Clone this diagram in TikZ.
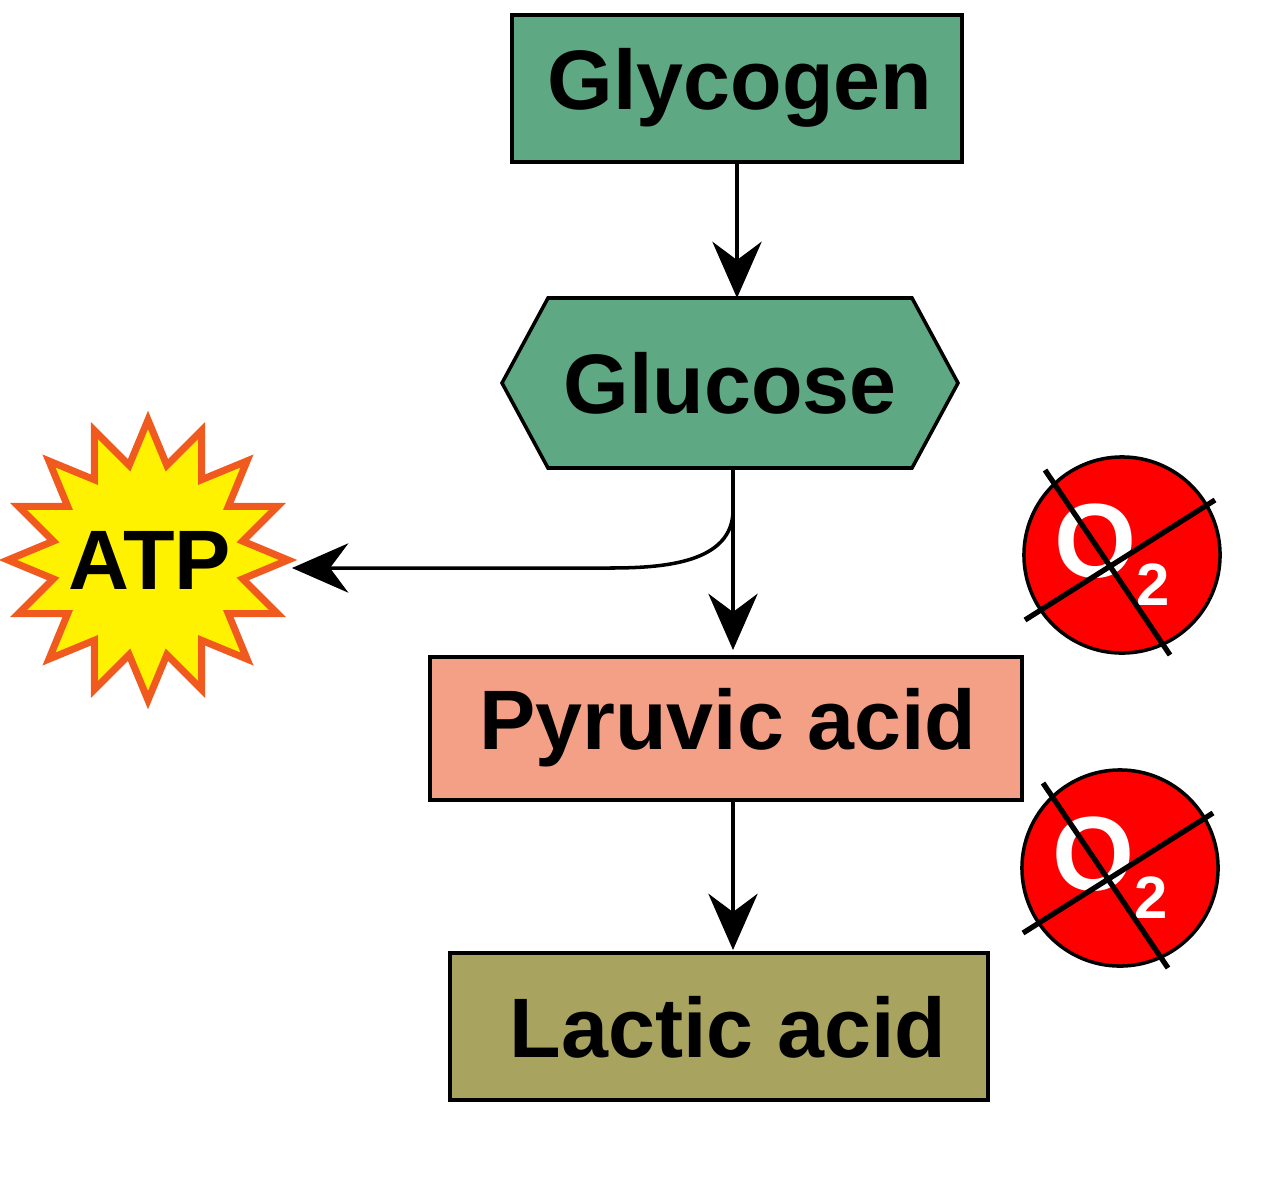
\documentclass[tikz,border=0pt]{standalone}
\usepackage{fontspec}
\setmainfont{Liberation Sans}
\usetikzlibrary{shapes.misc,shapes.geometric,arrows.meta}
\definecolor{gr}{RGB}{95,168,132}
\definecolor{sal}{RGB}{243,160,135}
\definecolor{oli}{RGB}{168,163,94}
\definecolor{orr}{RGB}{240,90,30}
\tikzset{
 lbl/.style={font=\bfseries\fontsize{24}{27}\selectfont},
 arr/.style={-{Stealth[length=16pt,width=14pt]},line width=1pt},
}
\begin{document}
\begin{tikzpicture}[x=0.01cm,y=-0.01cm]
\useasboundingbox[fill=white] (0,0) rectangle (1279,1200);
\draw[fill=gr,line width=1pt] (512,15) rectangle (962,162);
\node[lbl] (glyc) at (740,88) {Glycogen};
\coordinate (glycb) at (737,162);
\draw[fill=gr,line width=1pt] (502,383) -- (548,298) -- (912,298) -- (958,383) -- (912,468) -- (548,468) -- cycle;
\node[lbl] (gluc) at (730,383) {Glucose};
\coordinate (gluct) at (737,298);
\coordinate (glucb) at (733,468);
\draw[fill=sal,line width=1pt] (430,657) rectangle (1022,800);
\node[lbl] (pyr) at (728,728) {Pyruvic acid};
\coordinate (pyrt) at (733,650);
\coordinate (pyrb) at (733,800);
\draw[fill=oli,line width=1pt] (450,953) rectangle (988,1100);
\node[lbl] (lac) at (728,1027) {Lactic acid};
\coordinate (lact) at (733,950);
\node[star,star points=16,star point ratio=1.45,fill=yellow,draw=orr,line width=2pt,minimum width=2.8cm,minimum height=2.6cm,inner sep=0pt] (atpstar) at (148,560) {};
\node[lbl] (atp) at (150,560) {ATP};
\coordinate (atpr) at (292,568);
\draw[arr] (glycb) -- (gluct);
\draw[arr] (glucb) -- (pyrt);
\draw[arr] (pyrb) -- (lact);
\coordinate (br) at (733,510);
\draw[arr] (br) to[out=-90,in=0] (610,568) -- (atpr);
\foreach \cx/\cy/\n in {1122/555/oa,1120/868/ob}{
 \node[circle,fill=red,draw=black,line width=1pt,minimum size=1.96cm] (\n) at (\cx,\cy) {};
 \node[text=white,font=\bfseries\fontsize{30}{32}\selectfont] at (\cx-10,\cy) {O\raisebox{-0.5ex}{\fontsize{17}{18}\selectfont 2}};
 \draw[line width=1.5pt] (\cx-97,\cy+65) -- (\cx+93,\cy-55);
 \draw[line width=1.5pt] (\cx-77,\cy-85) -- (\cx+48,\cy+100);
}
\end{tikzpicture}
\end{document}
